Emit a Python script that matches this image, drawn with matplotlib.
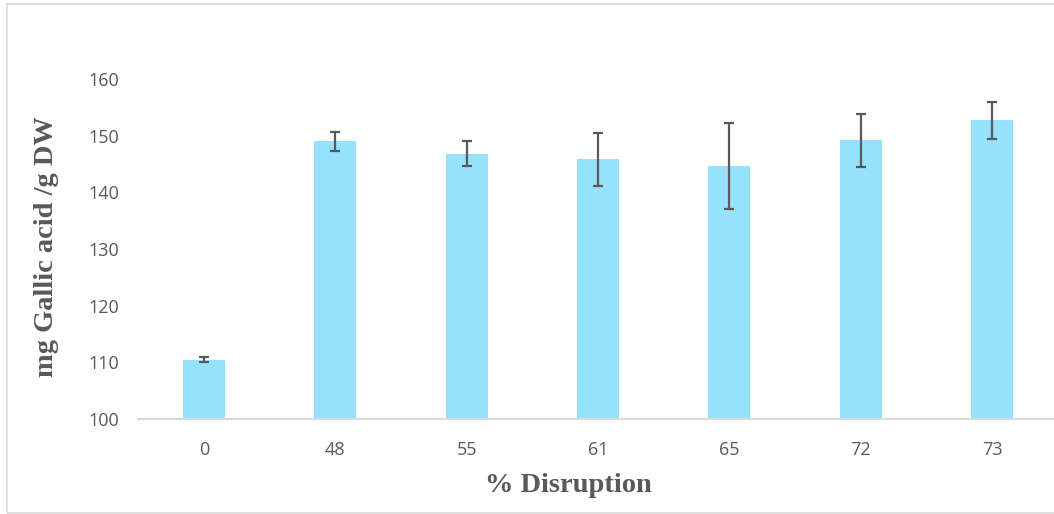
import matplotlib
matplotlib.use("Agg")
import matplotlib.pyplot as plt
from matplotlib.patches import Rectangle
import numpy as np

categories = ['0', '48', '55', '61', '65', '72', '73']
values = [110.5, 149.0, 146.8, 145.8, 144.7, 149.2, 152.7]
errors = [0.45, 1.7, 2.2, 4.7, 7.6, 4.7, 3.2]
yticks = [100, 110, 120, 130, 140, 150, 160]

W, H = 1054, 514
fig = plt.figure(figsize=(W / 100, H / 100), dpi=100)

# outer chart border (cropped on the right)
fig.patches.append(Rectangle((7 / W, (H - 512.5) / H), 1.2, (512.5 - 3.5) / H,
                             transform=fig.transFigure, fill=False,
                             edgecolor='#D9D9D9', linewidth=1.2))

left, right = 138.3, 1057.7
bottom, top = 419, 79
ax = fig.add_axes([left / W, (H - bottom) / H, (right - left) / W, (bottom - top) / H])

x = np.arange(len(categories))
ax.bar(x, values, width=0.32, color='#96E2FC', zorder=2)
ax.errorbar(x, values, yerr=errors, fmt='none', ecolor='#595959',
            elinewidth=1.6, capsize=3.6, capthick=1.6, zorder=3)

ax.set_xlim(-0.5, len(categories) - 0.5)
ax.set_ylim(100, 160)
ax.set_yticks(yticks)
ax.set_xticks(x)
ax.set_xticklabels(categories)

for s in ['top', 'right', 'left']:
    ax.spines[s].set_visible(False)
ax.spines['bottom'].set_color('#D9D9D9')
ax.spines['bottom'].set_linewidth(1.5)
ax.tick_params(axis='both', length=0, labelcolor='#595959', labelsize=13)
ax.tick_params(axis='y', pad=14)
ax.tick_params(axis='x', pad=15.5)
for lab in ax.get_xticklabels() + ax.get_yticklabels():
    lab.set_fontfamily('Open Sans')

fig.text(47 / W, (H - 246.5) / H, 'mg Gallic acid /g DW', rotation=90,
         ha='center', va='center', fontsize=20.5, fontweight='bold',
         family='Liberation Serif', color='#595959')
fig.text(568 / W, (H - 485) / H, '% Disruption', ha='center', va='center',
         fontsize=20.5, fontweight='bold', family='Liberation Serif',
         color='#595959')

fig.savefig('out.png', dpi=100)
